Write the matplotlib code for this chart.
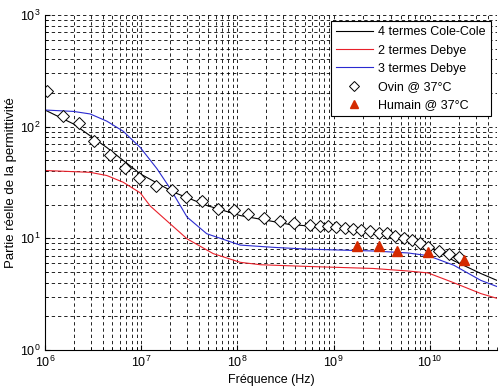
import numpy as np
import matplotlib
matplotlib.use("Agg")
import matplotlib.pyplot as plt
from matplotlib.ticker import LogLocator, NullFormatter

plt.rcParams['font.family'] = ['Liberation Sans', 'DejaVu Sans']
plt.rcParams['mathtext.fontset'] = 'custom'
plt.rcParams['mathtext.rm'] = 'Liberation Sans'

# courbes (Hz, permittivite)
f_cole = [1e6, 1.97e6, 4.4e6, 9.8e6, 2.17e7, 4.8e7, 1.07e8, 3.5e8, 8e8,
          2.6e9, 5.9e9, 9.6e9, 1.78e10, 3.4e10, 5e10]
eps_cole = [141, 106, 65, 37.8, 25.9, 19.7, 16.0, 13.3, 12.6,
            11.2, 9.6, 8.66, 6.3, 4.84, 4.2]

f_debye2 = [1e6, 2.95e6, 4.4e6, 6.5e6, 9.8e6, 1.24e7, 2e7, 3e7, 5.6e7, 1.07e8,
            1.74e8, 5.4e8, 2.6e9, 5.9e9, 9.6e9, 1.78e10, 3.4e10, 5e10]
eps_debye2 = [40.5, 39, 36.5, 31.8, 25.5, 19.5, 13.5, 9.9, 7.3, 6.1,
              5.8, 5.6, 5.37, 5.1, 4.9, 4.0, 3.2, 2.9]

f_debye3 = [1e6, 1.97e6, 2.95e6, 4.4e6, 6.5e6, 9.8e6, 1.46e7, 2e7, 3e7, 4.8e7,
            1.07e8, 2.4e8, 5.4e8, 2.6e9, 5.9e9, 9.6e9, 1.78e10, 3.4e10, 5e10]
eps_debye3 = [141, 137, 130, 112, 91, 65, 42, 28, 15.5, 11.0,
              8.7, 8.3, 8.0, 7.7, 7.4, 7.0, 5.74, 4.2, 3.7]

f_ovin = [1.06e6, 1.55e6, 2.28e6, 3.2e6, 4.7e6, 6.8e6, 9.6e6, 1.43e7, 2.09e7,
          2.9e7, 4.3e7, 6.3e7, 9.3e7, 1.3e8, 1.88e8, 2.75e8, 3.86e8, 5.66e8,
          7.2e8, 8.7e8, 1.07e9, 1.3e9, 1.6e9, 1.95e9, 2.4e9, 2.96e9, 3.6e9,
          4.4e9, 5.4e9, 6.6e9, 7.9e9, 9.6e9, 1.25e10, 1.58e10, 2.0e10]
eps_ovin = [210, 124, 108, 75, 56, 42.8, 34.8, 29.7, 26.9,
            23.4, 21.4, 18.4, 17.8, 16.4, 15.2, 14.2, 13.7, 13.3,
            13.0, 12.8, 12.6, 12.4, 12.1, 11.8, 11.6, 11.2, 11.1,
            10.6, 10.1, 9.6, 9.0, 8.4, 7.7, 7.3, 6.8]

f_humain = [1.77e9, 3.0e9, 4.6e9, 9.5e9, 2.27e10]
eps_humain = [8.5, 8.5, 7.7, 7.6, 6.4]

fig = plt.figure(figsize=(5.02, 3.9), dpi=100)
ax = fig.add_axes([0.0896, 0.1026, 0.9004, 0.8589])

ax.plot(f_cole, eps_cole, color='black', lw=0.8, label='4 termes Cole-Cole')
ax.plot(f_debye2, eps_debye2, color='#e8202a', lw=0.8, label='2 termes Debye')
ax.plot(f_debye3, eps_debye3, color='#2a2ad0', lw=0.8, label='3 termes Debye')
ax.plot(f_ovin, eps_ovin, 'D', mfc='white', mec='black', mew=0.7, ms=6,
        label='Ovin @ 37°C')
ax.plot(f_humain, eps_humain, '^', color='#d42a00', ms=7.5, lw=0,
        label='Humain @ 37°C')

ax.set_xscale('log')
ax.set_yscale('log')
ax.set_xlim(1e6, 5e10)
ax.set_ylim(1, 1000)

ax.xaxis.set_minor_locator(LogLocator(base=10, subs=np.arange(2, 10)))
ax.yaxis.set_minor_locator(LogLocator(base=10, subs=np.arange(2, 10)))
ax.xaxis.set_minor_formatter(NullFormatter())
ax.yaxis.set_minor_formatter(NullFormatter())

ax.grid(True, which='both', color='black', linestyle=(0, (4, 3.5)), lw=0.6)
ax.set_axisbelow(True)
ax.tick_params(which='both', direction='in', labelsize=9, top=False, right=False)
for s in ['top', 'right']:
    ax.spines[s].set_visible(False)

ax.set_xlabel('Fréquence (Hz)', fontsize=9, labelpad=3)
ax.set_ylabel('Partie réelle de la permittivité', fontsize=9.5, labelpad=2)

leg = ax.legend(loc='upper right', fontsize=9, frameon=True, fancybox=False,
                edgecolor='black', framealpha=1, handlelength=3.0,
                handletextpad=0.4, borderaxespad=0.5, labelspacing=0.5,
                markerscale=0.85)
leg.get_frame().set_linewidth(0.8)

fig.savefig('out.png', dpi=100)
